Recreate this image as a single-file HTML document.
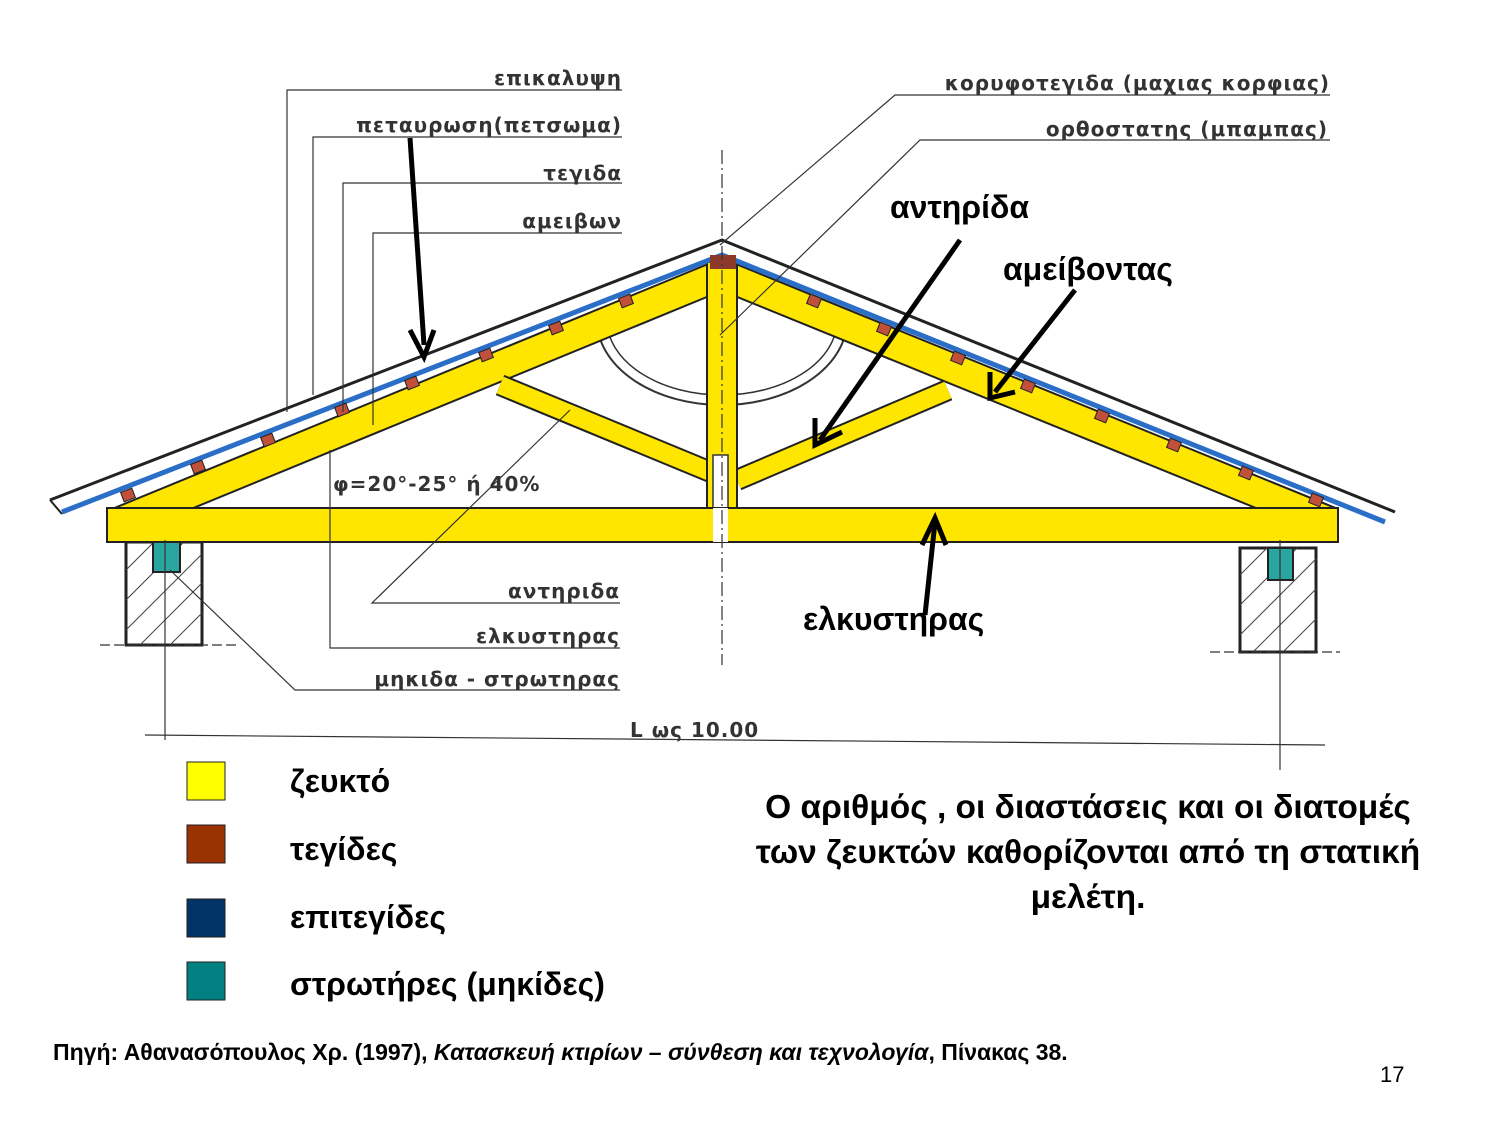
<!DOCTYPE html>
<html><head><meta charset="utf-8"><style>
body{margin:0;background:#fff;width:1500px;height:1125px;overflow:hidden;font-family:"Liberation Sans",sans-serif}
svg{position:absolute;left:0;top:0}
.lbl{font-family:"DejaVu Sans","Liberation Sans",sans-serif;font-size:20px;fill:#333;font-weight:bold;letter-spacing:1px}
.big{font-family:"Liberation Sans",sans-serif;font-size:32px;font-weight:bold;fill:#000}
</style></head><body>
<svg width="1500" height="1125" viewBox="0 0 1500 1125">
<g stroke="#222" stroke-width="3" fill="#fff">
<rect x="126" y="542" width="76" height="103"/>
<rect x="1240" y="548" width="76" height="104"/>
</g>
<g stroke="#444" stroke-width="1">
<path d="M126,570 L154,542 M126,600 L184,542 M126,630 L202,554 M140,645 L202,583 M170,645 L202,613"/>
<path d="M1240,575 L1267,548 M1240,605 L1297,548 M1240,635 L1316,559 M1253,652 L1316,589 M1283,652 L1316,619"/>
</g>
<rect x="153" y="540" width="27" height="32" fill="#2aa6a0" stroke="#222" stroke-width="2"/>
<rect x="1268" y="548" width="25" height="32" fill="#2aa6a0" stroke="#222" stroke-width="2"/>
<path d="M597,320 A125,85 0 0 0 847,320" fill="none" stroke="#333" stroke-width="2"/>
<path d="M607,320 A115,75 0 0 0 837,320" fill="none" stroke="#333" stroke-width="1.5"/>
<g stroke-linecap="butt">
<line x1="115" y1="524" x2="716" y2="277" stroke="#222" stroke-width="32"/>
<line x1="115" y1="524" x2="716" y2="277" stroke="#ffe600" stroke-width="28"/>
<line x1="728" y1="277" x2="1330" y2="522" stroke="#222" stroke-width="32"/>
<line x1="728" y1="277" x2="1330" y2="522" stroke="#ffe600" stroke-width="28"/>
<line x1="500" y1="385" x2="730" y2="480" stroke="#222" stroke-width="22"/>
<line x1="500" y1="385" x2="730" y2="480" stroke="#ffe600" stroke-width="18"/>
<line x1="737" y1="480" x2="948" y2="390" stroke="#222" stroke-width="22"/>
<line x1="737" y1="480" x2="948" y2="390" stroke="#ffe600" stroke-width="18"/>
</g>
<rect x="707" y="262" width="30" height="280" fill="#ffe600" stroke="#222" stroke-width="2"/>
<rect x="713" y="455" width="15" height="85" fill="#fff" stroke="#333" stroke-width="1.5"/>
<rect x="107" y="508" width="1231" height="34" fill="#ffe600" stroke="#222" stroke-width="2"/>
<rect x="713" y="508" width="15" height="34" fill="#fff"/>
<polyline points="50,500 722,240 1395,512" fill="none" stroke="#222" stroke-width="3"/>
<polyline points="62,512 722,255 1385,522" fill="none" stroke="#2a6ec8" stroke-width="5"/>
<polyline points="50,500 62,514" fill="none" stroke="#222" stroke-width="2"/>
<rect x="710" y="255" width="26" height="14" fill="#8b3a2a"/>
<g fill="#c0503a" stroke="#222" stroke-width="1">
<rect x="122" y="490" width="12" height="10" transform="rotate(-21 128 495)"/>
<rect x="192" y="462" width="12" height="10" transform="rotate(-21 198 467)"/>
<rect x="262" y="435" width="12" height="10" transform="rotate(-21 268 440)"/>
<rect x="336" y="405" width="12" height="10" transform="rotate(-21 342 410)"/>
<rect x="406" y="378" width="12" height="10" transform="rotate(-21 412 383)"/>
<rect x="480" y="350" width="12" height="10" transform="rotate(-21 486 355)"/>
<rect x="550" y="323" width="12" height="10" transform="rotate(-21 556 328)"/>
<rect x="620" y="296" width="12" height="10" transform="rotate(-21 626 301)"/>
<rect x="808" y="296" width="12" height="10" transform="rotate(22 814 301)"/>
<rect x="878" y="324" width="12" height="10" transform="rotate(22 884 329)"/>
<rect x="952" y="353" width="12" height="10" transform="rotate(22 958 358)"/>
<rect x="1022" y="381" width="12" height="10" transform="rotate(22 1028 386)"/>
<rect x="1096" y="411" width="12" height="10" transform="rotate(22 1102 416)"/>
<rect x="1168" y="440" width="12" height="10" transform="rotate(22 1174 445)"/>
<rect x="1240" y="468" width="12" height="10" transform="rotate(22 1246 473)"/>
<rect x="1310" y="495" width="12" height="10" transform="rotate(22 1316 500)"/>
</g>
<g stroke="#333" stroke-width="1.2" fill="none">
<polyline points="622,90 287,90 287,412"/>
<polyline points="622,137 313,137 313,395"/>
<polyline points="622,183 343,183 343,412"/>
<polyline points="622,233 373,233 373,425"/>
<polyline points="1330,95 895,95 720,245"/>
<polyline points="1330,140 920,140 720,335"/>
<polyline points="620,603 372,603 570,410"/>
<polyline points="620,648 330,648 330,450"/>
<polyline points="620,690 295,690 170,570"/>
<line x1="722" y1="150" x2="722" y2="665" stroke-dasharray="14,4,2,4"/>
<line x1="165" y1="540" x2="165" y2="740"/>
<line x1="1280" y1="540" x2="1280" y2="770"/>
<line x1="145" y1="735" x2="1325" y2="745"/>
<line x1="100" y1="645" x2="240" y2="645" stroke-dasharray="10,4"/>
<line x1="1210" y1="652" x2="1340" y2="652" stroke-dasharray="10,4"/>
</g>
<g stroke="#000" stroke-width="5" fill="none">
<line x1="410" y1="138" x2="424" y2="345"/>
<polyline points="410,330 424,357 434,330"/>
<line x1="960" y1="240" x2="820" y2="440"/>
<polyline points="815,418 815,445 842,432"/>
<line x1="1075" y1="290" x2="995" y2="392"/>
<polyline points="990,372 990,398 1015,392"/>
<line x1="925" y1="615" x2="935" y2="522"/>
<polyline points="922,545 935,518 946,545"/>
</g>
<g class="lbl" text-anchor="end">
<text x="622" y="85">επικαλυψη</text>
<text x="622" y="132">πεταυρωση(πετσωμα)</text>
<text x="622" y="180">τεγιδα</text>
<text x="622" y="228">αμειβων</text>
<text x="1330" y="90">κορυφοτεγιδα (μαχιας κορφιας)</text>
<text x="1328" y="136">ορθοστατης (μπαμπας)</text>
<text x="620" y="598">αντηριδα</text>
<text x="620" y="643">ελκυστηρας</text>
<text x="620" y="686">μηκιδα - στρωτηρας</text>
</g>
<text class="lbl" x="333" y="491">φ=20°-25°  ή 40%</text>
<text class="lbl" x="630" y="737">L  ως 10.00</text>
<text class="big" x="890" y="218">αντηρίδα</text>
<text class="big" x="1003" y="280">αμείβοντας</text>
<text class="big" x="803" y="630">ελκυστηρας</text>
<rect x="187" y="762" width="38" height="38" fill="#ffff00" stroke="#222"/>
<rect x="187" y="825" width="38" height="38" fill="#993300" stroke="#222"/>
<rect x="187" y="899" width="38" height="38" fill="#003366" stroke="#222"/>
<rect x="187" y="962" width="38" height="38" fill="#008080" stroke="#222"/>
<text class="big" x="290" y="792">ζευκτό</text>
<text class="big" x="290" y="860">τεγίδες</text>
<text class="big" x="290" y="928">επιτεγίδες</text>
<text class="big" x="290" y="995">στρωτήρες (μηκίδες)</text>
<g class="big" text-anchor="middle" style="font-size:33.5px">
<text x="1088" y="818">Ο αριθμός , οι διαστάσεις και οι διατομές</text>
<text x="1088" y="863">των ζευκτών καθορίζονται από τη στατική</text>
<text x="1088" y="908">μελέτη.</text>
</g>
<text x="53" y="1060" style="font-size:23px;font-weight:bold">Πηγή: Αθανασόπουλος Χρ. (1997), <tspan font-style="italic">Κατασκευή κτιρίων – σύνθεση και τεχνολογία</tspan>,  Πίνακας 38.</text>
<text x="1380" y="1082" style="font-size:22px">17</text>
</svg>
</body></html>
